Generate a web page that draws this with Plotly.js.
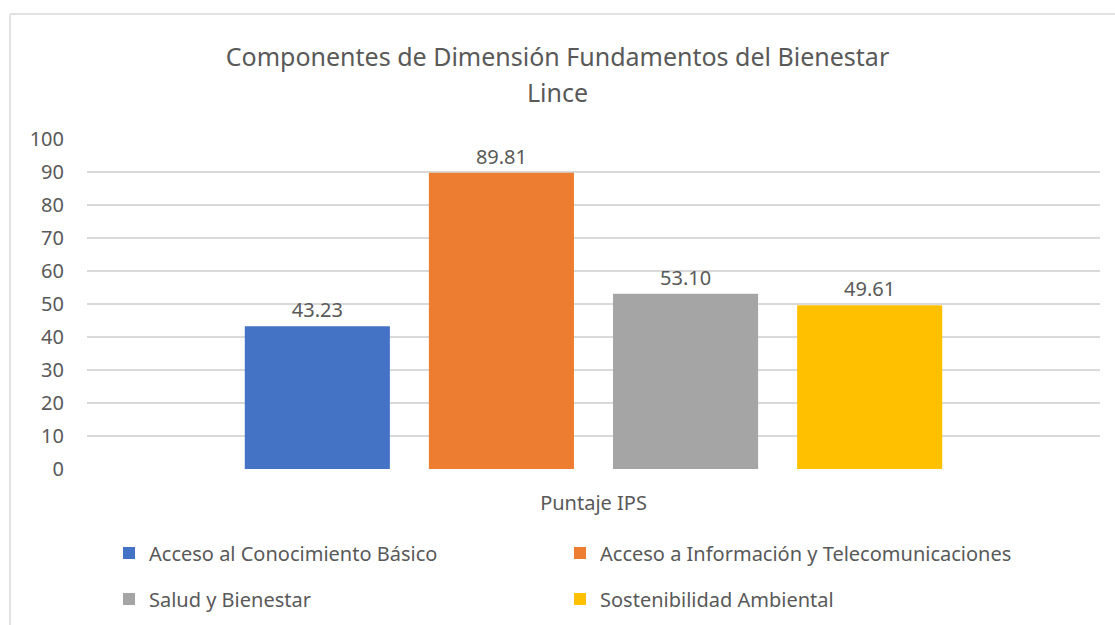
<!DOCTYPE html>
<html>
<head>
<meta charset="utf-8">
<script src="https://cdn.plot.ly/plotly-3.0.1.min.js"></script>
<style>html,body{margin:0;padding:0;background:#fff;}#chart{width:1115px;height:625px;}</style>
</head>
<body>
<div id="chart"></div>
<script>
const category = ['Puntaje IPS'];
const seriesNames = ['Acceso al Conocimiento Básico', 'Acceso a Información y Telecomunicaciones', 'Salud y Bienestar', 'Sostenibilidad Ambiental'];
const seriesValues = [43.23, 89.81, 53.10, 49.61];
const seriesColors = ['#4472C4', '#ED7D31', '#A5A5A5', '#FFC000'];
const seriesLegends = ['legend', 'legend', 'legend2', 'legend2'];
const yTicks = [0, 10, 20, 30, 40, 50, 60, 70, 80, 90, 100];
const titleLine1 = 'Componentes de Dimensión Fundamentos del Bienestar';
const titleLine2 = 'Lince';

const W = 1115, H = 625;
const L = 87, R = 15, T = 139, B = 156;
const FONT = 'Noto Sans, Open Sans, sans-serif';
const TXT = '#595959';

const traces = seriesNames.map((n, i) => ({
  type: 'bar',
  name: n,
  x: category,
  y: [seriesValues[i]],
  marker: {color: seriesColors[i]},
  legend: seriesLegends[i],
  texttemplate: '%{y:.2f}',
  textposition: 'outside',
  cliponaxis: false,
  textfont: {family: FONT, size: 20, color: TXT},
  hoverinfo: 'none'
}));

const pw = W - L - R, ph = H - T - B;
const px2x = p => (p - L) / pw;
const py2y = p => (H - B - p) / ph;

const legendCommon = {
  orientation: 'h',
  xref: 'container', yref: 'container',
  xanchor: 'left', yanchor: 'middle',
  entrywidth: 406, entrywidthmode: 'pixels',
  font: {family: FONT, size: 20, color: TXT},
  bgcolor: 'rgba(0,0,0,0)',
  itemclick: false, itemdoubleclick: false
};

const layout = {
  width: W, height: H,
  margin: {l: L, r: R, t: T, b: B, pad: 0},
  paper_bgcolor: '#ffffff',
  plot_bgcolor: '#ffffff',
  barmode: 'group',
  bargap: 0.273,
  bargroupgap: 0.212,
  showlegend: true,
  font: {family: FONT, color: TXT},
  title: {
    text: titleLine1,
    font: {family: FONT, size: 25, color: TXT},
    x: 0.5, xref: 'container', xanchor: 'center',
    y: 1 - 57 / H, yref: 'container', yanchor: 'middle'
  },
  annotations: [{
    text: titleLine2,
    xref: 'paper', yref: 'paper',
    x: px2x(W / 2), y: py2y(92), xanchor: 'center', yanchor: 'middle',
    showarrow: false,
    font: {family: FONT, size: 25, color: TXT}
  }],
  xaxis: {
    type: 'category',
    range: [-0.5, 0.5],
    showgrid: false, zeroline: false, showline: false,
    ticks: '',
    tickfont: {family: FONT, size: 20, color: TXT},
    ticklabelstandoff: 20,
    fixedrange: true
  },
  yaxis: {
    range: [0, 100],
    tickvals: yTicks,
    ticktext: yTicks.map(String),
    showgrid: true, gridcolor: '#D9D9D9', gridwidth: 1.3,
    zeroline: false, showline: false,
    ticks: '',
    tickfont: {family: FONT, size: 20, color: TXT},
    ticklabelstandoff: 22,
    fixedrange: true
  },
  legend: Object.assign({}, legendCommon, {x: 109 / W, y: 1 - 553 / H}),
  legend2: Object.assign({}, legendCommon, {x: 109 / W, y: 1 - 599 / H}),
  shapes: [
    {type: 'line', xref: 'paper', yref: 'paper', x0: px2x(10), x1: px2x(10), y0: py2y(14), y1: py2y(630), line: {color: '#D9D9D9', width: 1.5}, layer: 'below'},
    {type: 'line', xref: 'paper', yref: 'paper', x0: px2x(10), x1: px2x(1120), y0: py2y(14), y1: py2y(14), line: {color: '#D9D9D9', width: 1.5}, layer: 'below'}
  ]
};

Plotly.newPlot('chart', traces, layout, {displayModeBar: false, staticPlot: true});
</script>
</body>
</html>
